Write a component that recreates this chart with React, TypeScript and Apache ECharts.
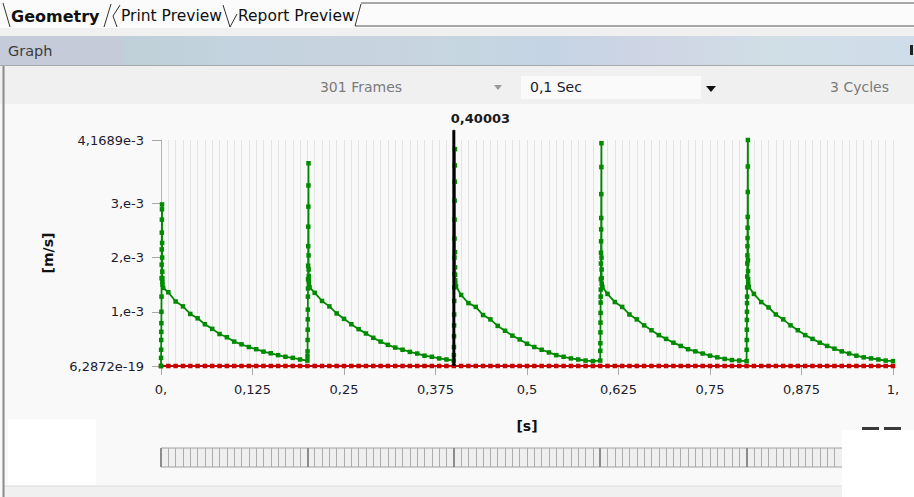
import React, { useEffect, useRef } from "react";
import * as echarts from "echarts";

// ---------- data (velocity in units of 1e-3 m/s, time in s) ----------
const frameStep = 0.01; // s between saved frames
const subStep = 0.0001; // s between sub-steps inside a jump
const firstDecayOffset = 0.003; // s after a jump, first point of the decay
const barMajorStep = 0.2; // s between darker marks of the frame bar

const cycleStarts = [0, 0.2, 0.4, 0.6, 0.8];

// points stacked on the vertical jump of each cycle (time order)
const spike0 = [0, 0.15, 0.3, 0.48, 0.63, 0.79, 1.0, 1.28, 1.62, 1.87, 2.15, 2.46, 2.7, 2.89, 2.98, 2.27, 2.0, 1.74, 1.62, 1.55, 1.5];
const spike1 = [0.1, 0.18, 0.27, 0.48, 0.67, 0.86, 1.04, 1.28, 1.43, 1.6, 1.85, 2.21, 2.57, 2.94, 3.33, 3.74, 2.04, 1.78, 1.66, 1.58, 1.52];
const spike2 = [0.1, 0.2, 0.35, 0.55, 0.75, 0.95, 1.2, 1.45, 1.7, 2.0, 2.35, 2.7, 3.05, 3.4, 3.7, 4.0, 2.1, 1.82, 1.68, 1.58, 1.52];
const spike3 = [0.1, 0.28, 0.42, 0.62, 0.8, 0.98, 1.17, 1.28, 1.41, 1.6, 1.89, 2.09, 2.3, 2.52, 2.73, 3.17, 3.67, 4.11, 2.0, 1.78, 1.62, 1.52];
const spike4 = [0.09, 0.3, 0.48, 0.67, 0.85, 1.0, 1.16, 1.28, 1.45, 1.65, 1.89, 2.04, 2.21, 2.36, 2.55, 2.75, 3.21, 3.68, 4.1689, 1.95, 1.75, 1.6, 1.52];

// decay after each jump: first value at +0.003 s, then one value per frame
const decay0 = [1.44, 1.36, 1.19, 1.1, 0.96, 0.88, 0.77, 0.685, 0.59, 0.53, 0.45, 0.4, 0.35, 0.31, 0.265, 0.235, 0.2, 0.17, 0.15, 0.12];
const decay1 = [1.45, 1.35, 1.2, 1.1, 0.97, 0.87, 0.77, 0.68, 0.6, 0.52, 0.45, 0.39, 0.34, 0.3, 0.26, 0.23, 0.19, 0.17, 0.14, 0.12];
const decay2 = [1.47, 1.31, 1.16, 1.09, 0.94, 0.86, 0.74, 0.65, 0.56, 0.49, 0.41, 0.35, 0.3, 0.25, 0.2, 0.17, 0.14, 0.12, 0.1, 0.09];
const decay3 = [1.46, 1.33, 1.18, 1.09, 0.95, 0.86, 0.75, 0.66, 0.57, 0.5, 0.43, 0.37, 0.31, 0.27, 0.23, 0.19, 0.16, 0.13, 0.11, 0.1];
const decay4 = [1.46, 1.33, 1.18, 1.08, 0.95, 0.86, 0.75, 0.66, 0.57, 0.5, 0.43, 0.37, 0.32, 0.27, 0.23, 0.19, 0.16, 0.14, 0.12, 0.1, 0.09];

const spikes = [spike0, spike1, spike2, spike3, spike4];
const decays = [decay0, decay1, decay2, decay3, decay4];

// second quantity: zero at every frame
const zeroSeries = [
  0, 0, 0, 0, 0, 0, 0, 0, 0, 0, 0, 0, 0, 0, 0, 0, 0, 0, 0, 0,
  0, 0, 0, 0, 0, 0, 0, 0, 0, 0, 0, 0, 0, 0, 0, 0, 0, 0, 0, 0,
  0, 0, 0, 0, 0, 0, 0, 0, 0, 0, 0, 0, 0, 0, 0, 0, 0, 0, 0, 0,
  0, 0, 0, 0, 0, 0, 0, 0, 0, 0, 0, 0, 0, 0, 0, 0, 0, 0, 0, 0,
  0, 0, 0, 0, 0, 0, 0, 0, 0, 0, 0, 0, 0, 0, 0, 0, 0, 0, 0, 0,
  0,
];

const cursorTime = 0.40003;
const cursorLabel = "0,40003";
const cursorTop = 4.35;

const xMin = 0;
const xMax = 1;
const xTickStep = 0.125;
const xTickLabels = ["0,", "0,125", "0,25", "0,375", "0,5", "0,625", "0,75", "0,875", "1,"];

const yMin = 0;
const yMax = 4.1689;
const yTickValues = [0, 1, 2, 3, 4.1689];
const yTickLabels = ["6,2872e-19", "1,e-3", "2,e-3", "3,e-3", "4,1689e-3"];

const FONT = "DejaVu Sans";

function buildGreen(): number[][] {
  const pts: number[][] = [];
  cycleStarts.forEach((T, c) => {
    spikes[c].forEach((v, i) => pts.push([T + i * subStep, v]));
    decays[c].forEach((v, k) => pts.push([k === 0 ? T + firstDecayOffset : T + k * frameStep, v]));
  });
  return pts;
}

function buildRed(): number[][] {
  return zeroSeries.map((v, i) => [i * frameStep, v]);
}

export default function App() {
  const ref = useRef<HTMLDivElement>(null);

  useEffect(() => {
    if (!ref.current) return;
    const chart = echarts.init(ref.current, undefined, { renderer: "svg" });

    const headerGradient = new echarts.graphic.LinearGradient(0, 0, 1, 0, [
      { offset: 0, color: "#c5cbd9" },
      { offset: 0.13, color: "#c5cbd9" },
      { offset: 0.14, color: "#bfd0d8" },
      { offset: 0.25, color: "#c3d3df" },
      { offset: 0.4, color: "#c8d3e0" },
      { offset: 0.5, color: "#c6d6e0" },
      { offset: 0.6, color: "#c4d4e4" },
      { offset: 0.72, color: "#cfd5e4" },
      { offset: 0.85, color: "#d0dfe6" },
      { offset: 1, color: "#cfdcea" },
    ]);

    const sep = (pts: number[][]) => ({
      type: "polyline",
      shape: { points: pts },
      style: { stroke: "#333", lineWidth: 1, fill: null },
      z: 101,
    });

    const graphics: any[] = [
      // tab bar
      { type: "rect", shape: { x: 0, y: 0, width: 914, height: 28 }, style: { fill: "#fbfbfb" }, z: 100 },
      { type: "rect", shape: { x: 0, y: 28, width: 914, height: 8 }, style: { fill: "#f0f0f0" }, z: 100 },
      { type: "line", shape: { x1: 361, y1: 3, x2: 914, y2: 3 }, style: { stroke: "#555", lineWidth: 1 }, z: 101 },
      { type: "line", shape: { x1: 355, y1: 26, x2: 914, y2: 26 }, style: { stroke: "#555", lineWidth: 1 }, z: 101 },
      sep([[3, 3], [10, 27]]),
      sep([[104, 27], [111, 4]]),
      sep([[120, 5], [113, 16], [117, 27]]),
      sep([[223, 5], [230, 27]]),
      sep([[230, 27], [237, 14]]),
      sep([[355, 26], [361, 4]]),
      { type: "text", x: 11, y: 16, style: { text: "Geometry", font: `bold 16px ${FONT}`, fill: "#111", verticalAlign: "middle" }, z: 102 },
      { type: "text", x: 121, y: 16, style: { text: "Print Preview", font: `15.5px ${FONT}`, fill: "#111", verticalAlign: "middle" }, z: 102 },
      { type: "text", x: 238, y: 16, style: { text: "Report Preview", font: `15.5px ${FONT}`, fill: "#111", verticalAlign: "middle" }, z: 102 },
      // Graph header
      { type: "rect", shape: { x: 0, y: 36, width: 914, height: 29 }, style: { fill: headerGradient }, z: 100 },
      { type: "line", shape: { x1: 0, y1: 65.5, x2: 914, y2: 65.5 }, style: { stroke: "#a8a8a8", lineWidth: 1 }, z: 101 },
      { type: "text", x: 8, y: 51, style: { text: "Graph", font: `14.5px ${FONT}`, fill: "#3c3c3c", verticalAlign: "middle" }, z: 102 },
      { type: "rect", shape: { x: 910, y: 45, width: 3, height: 10 }, style: { fill: "#222" }, z: 102 },
      // toolbar row
      { type: "rect", shape: { x: 0, y: 66, width: 914, height: 38 }, style: { fill: "#f0f0f0" }, z: 100 },
      { type: "text", x: 361, y: 87, style: { text: "301 Frames", font: `14px ${FONT}`, fill: "#7a7a7a", align: "center", verticalAlign: "middle" }, z: 102 },
      { type: "polygon", shape: { points: [[494, 85], [502, 85], [498, 90]] }, style: { fill: "#9a9a9a" }, z: 102 },
      { type: "rect", shape: { x: 521, y: 76, width: 180, height: 23 }, style: { fill: "#fafafa" }, z: 101 },
      { type: "text", x: 530, y: 87, style: { text: "0,1 Sec", font: `14px ${FONT}`, fill: "#1a1a2a", verticalAlign: "middle" }, z: 102 },
      { type: "polygon", shape: { points: [[706, 86], [716, 86], [711, 92]] }, style: { fill: "#111" }, z: 102 },
      { type: "text", x: 889, y: 87, style: { text: "3 Cycles", font: `14px ${FONT}`, fill: "#7a7a7a", align: "right", verticalAlign: "middle" }, z: 102 },
      // left panel border
      { type: "line", shape: { x1: 3.5, y1: 66, x2: 3.5, y2: 497 }, style: { stroke: "#8a8a8a", lineWidth: 2 }, z: 103 },
      // bottom strip
      { type: "rect", shape: { x: 4, y: 486, width: 910, height: 11 }, style: { fill: "#f0f0f0" }, z: 100 },
      { type: "line", shape: { x1: 4, y1: 486, x2: 914, y2: 486 }, style: { stroke: "#dcdcdc", lineWidth: 1 }, z: 101 },
      // boxes below the plot
      { type: "rect", shape: { x: 8, y: 419, width: 88, height: 66, r: 2 }, style: { fill: "#ffffff" }, z: 100 },
      { type: "rect", shape: { x: 862, y: 427, width: 17, height: 4 }, style: { fill: "#3a3a3a" }, z: 100 },
      { type: "rect", shape: { x: 884, y: 427, width: 17, height: 4 }, style: { fill: "#3a3a3a" }, z: 100 },
      { type: "rect", shape: { x: 842, y: 430, width: 72, height: 67 }, style: { fill: "#ffffff" }, z: 101 },
    ];

    const green = buildGreen();
    const red = buildRed();

    const hiddenAxisParts = {
      axisLine: { show: false },
      axisTick: { show: false },
      axisLabel: { show: false },
    };

    const option: any = {
      animation: false,
      backgroundColor: "#f9f9f9",
      grid: [
        { left: 161, right: 21, top: 140, bottom: 131, containLabel: false },
        { left: 161, right: 21, top: 448, height: 19, show: true, backgroundColor: "#efefef", borderColor: "#a0a0a0", borderWidth: 1 },
      ],
      xAxis: [
        {
          type: "value",
          gridIndex: 0,
          min: xMin,
          max: xMax,
          interval: xTickStep,
          position: "bottom",
          axisLine: { show: false },
          axisTick: { show: true, length: 9, lineStyle: { color: "#a8a8a8" } },
          axisLabel: {
            margin: 17,
            fontFamily: FONT,
            fontSize: 13,
            color: "#1c1c30",
            formatter: (v: number) => xTickLabels[Math.round(v / xTickStep)] ?? "",
          },
          splitLine: { show: false },
          name: "[s]",
          nameLocation: "middle",
          nameGap: 53,
          nameTextStyle: { fontFamily: FONT, fontSize: 14, fontWeight: "bold", color: "#111" },
        },
        {
          type: "value",
          gridIndex: 0,
          min: xMin,
          max: xMax,
          interval: frameStep,
          position: "top",
          axisLine: { show: true, lineStyle: { color: "#b4b4b4", width: 1 } },
          axisTick: { show: false },
          axisLabel: { show: false },
          splitLine: { show: true, lineStyle: { color: "#e4e4e4", width: 1 } },
        },
        {
          type: "value",
          gridIndex: 1,
          min: xMin,
          max: xMax,
          interval: frameStep,
          ...hiddenAxisParts,
          splitLine: { show: true, lineStyle: { color: "#acacac", width: 1 } },
        },
        {
          type: "value",
          gridIndex: 1,
          min: xMin,
          max: xMax,
          interval: barMajorStep,
          ...hiddenAxisParts,
          splitLine: { show: true, lineStyle: { color: "#8c8c8c", width: 2 } },
        },
      ],
      yAxis: [
        {
          type: "value",
          gridIndex: 0,
          min: yMin,
          max: yMax,
          position: "left",
          axisLine: { show: true, lineStyle: { color: "#d8d8d8" } },
          axisTick: { show: true, length: 9, customValues: yTickValues, lineStyle: { color: "#a8a8a8" } },
          axisLabel: {
            margin: 17,
            fontFamily: FONT,
            fontSize: 13,
            color: "#1c1c30",
            customValues: yTickValues,
            formatter: (v: number) => {
              const i = yTickValues.findIndex((t) => Math.abs(t - v) < 1e-6);
              return i >= 0 ? yTickLabels[i] : "";
            },
          },
          splitLine: { show: false },
          name: "[m/s]",
          nameLocation: "middle",
          nameRotate: 90,
          nameGap: 106,
          nameTextStyle: { fontFamily: FONT, fontSize: 14, fontWeight: "bold", color: "#111" },
        },
        {
          type: "value",
          gridIndex: 0,
          min: yMin,
          max: yMax,
          position: "right",
          axisLine: { show: true, lineStyle: { color: "#b4b4b4" } },
          axisTick: { show: false },
          axisLabel: { show: false },
          splitLine: { show: false },
        },
        {
          type: "value",
          gridIndex: 1,
          min: 0,
          max: 1,
          ...hiddenAxisParts,
          splitLine: { show: false },
        },
      ],
      series: [
        {
          type: "line",
          xAxisIndex: 0,
          yAxisIndex: 0,
          data: red,
          symbol: "rect",
          symbolSize: 4.5,
          lineStyle: { color: "#c80000", width: 2 },
          itemStyle: { color: "#c80000" },
          z: 3,
        },
        {
          type: "line",
          xAxisIndex: 0,
          yAxisIndex: 0,
          data: green,
          symbol: "rect",
          symbolSize: 4.5,
          showAllSymbol: true,
          lineStyle: { color: "#008a00", width: 1.8 },
          itemStyle: { color: "#008a00" },
          z: 4,
        },
        {
          type: "line",
          xAxisIndex: 0,
          yAxisIndex: 0,
          clip: false,
          symbol: "circle",
          symbolSize: 1,
          showSymbol: true,
          lineStyle: { color: "#000", width: 3 },
          itemStyle: { color: "#000" },
          data: [
            [cursorTime, yMin],
            {
              value: [cursorTime, cursorTop],
              label: {
                show: true,
                formatter: cursorLabel,
                position: "top",
                align: "left",
                offset: [-3, 0],
                fontFamily: FONT,
                fontSize: 13,
                fontWeight: "bold",
                color: "#1a1a1a",
              },
            },
          ],
          z: 5,
        },
      ],
      graphic: graphics,
    };

    chart.setOption(option);
    return () => chart.dispose();
  }, []);

  return <div ref={ref} style={{ position: "fixed", left: 0, top: 0, width: 914, height: 497 }} />;
}
